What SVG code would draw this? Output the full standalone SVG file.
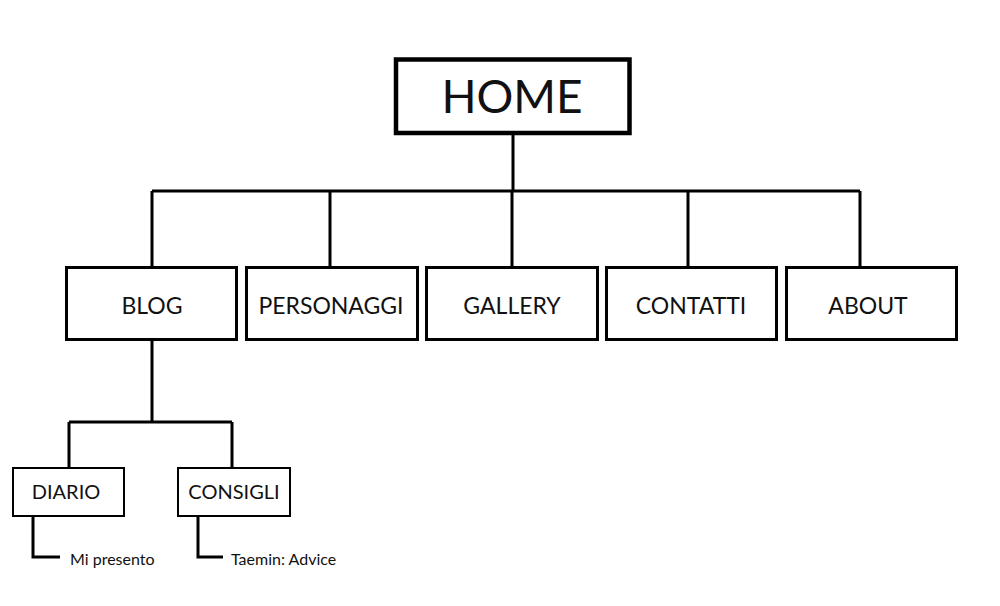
<svg xmlns="http://www.w3.org/2000/svg" width="1000" height="606" viewBox="0 0 1000 606">
<style>
.box{fill:#fff;stroke:#000}
.l1{stroke-width:4.5}
.l2{stroke-width:3}
.l3{stroke-width:2}
.lbl{font-family:Lato,"Noto Sans",sans-serif;fill:#111;text-anchor:middle}
.t2{font-size:23px}
.t3{font-size:20px}
.t4{font-size:16px;text-anchor:start}
.wire{fill:none;stroke:#000;stroke-width:3}
</style>
<rect width="1000" height="606" fill="#fff"/>
<g id="connectors">
<path class="wire" d="M513 134V191M152 191H860M152 191V266M330 191V266M512 191V266M688 191V266M860 191V266"/>
<path class="wire" d="M152 341V422M69 422H232M69 422V467M232 422V467"/>
<path class="wire" d="M33 517V557H60M198 517V557H223"/>
</g>
<g id="home"><rect class="box l1" x="396" y="59.5" width="233.5" height="73.5"/><text class="lbl" x="512" y="113" font-size="46">HOME</text></g>
<g id="blog"><rect class="box l2" x="66.5" y="267.5" width="170" height="72"/><text class="lbl t2" x="152" y="314">BLOG</text></g>
<g id="personaggi"><rect class="box l2" x="246.5" y="267.5" width="171" height="72"/><text class="lbl t2" x="331" y="314">PERSONAGGI</text></g>
<g id="gallery"><rect class="box l2" x="426.5" y="267.5" width="171" height="72"/><text class="lbl t2" x="512" y="314">GALLERY</text></g>
<g id="contatti"><rect class="box l2" x="606.5" y="267.5" width="170" height="72"/><text class="lbl t2" x="691" y="314">CONTATTI</text></g>
<g id="about"><rect class="box l2" x="786.5" y="267.5" width="170" height="72"/><text class="lbl t2" x="868" y="314">ABOUT</text></g>
<g id="diario"><rect class="box l3" x="13" y="468" width="111" height="48"/><text class="lbl t3" x="66" y="499">DIARIO</text></g>
<g id="consigli"><rect class="box l3" x="178" y="468" width="112" height="48"/><text class="lbl t3" x="234" y="499">CONSIGLI</text></g>
<g id="mi-presento"><text class="lbl t4" x="70" y="565">Mi presento</text></g>
<g id="taemin-advice"><text class="lbl t4" x="231" y="565">Taemin: Advice</text></g>
</svg>
